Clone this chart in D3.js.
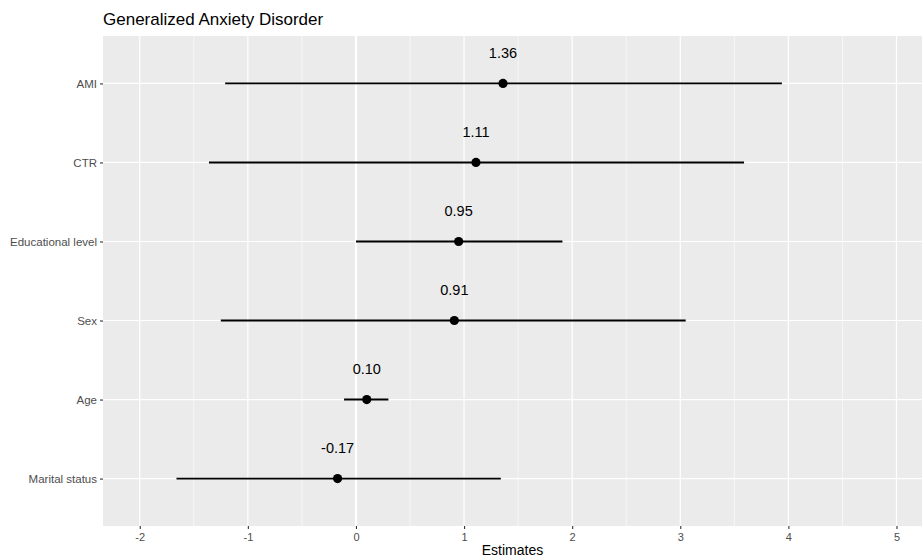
<!DOCTYPE html>
<html>
<head>
<meta charset="utf-8">
<script src="https://cdn.jsdelivr.net/npm/d3@7"></script>
<style>
  body { margin: 0; background: #fff; }
  svg { display: block; font-family: "Liberation Sans", Arial, sans-serif; }
</style>
</head>
<body>
<div id="chart"></div>
<script>
const categories = ["AMI", "CTR", "Educational level", "Sex", "Age", "Marital status"]
const estimates = [1.36, 1.11, 0.95, 0.91, 0.10, -0.17]
const lower = [-1.21, -1.36, 0.00, -1.25, -0.11, -1.66]
const upper = [3.94, 3.59, 1.91, 3.05, 0.30, 1.34]
const xTicks = [-2, -1, 0, 1, 2, 3, 4, 5]
const xMinor = [-1.5, -0.5, 0.5, 1.5, 2.5, 3.5, 4.5]

const width = 922
const height = 560
const margin = {top: 36, right: 0, bottom: 34, left: 103}
const innerWidth = width - margin.left - margin.right
const innerHeight = height - margin.top - margin.bottom

const x = d3.scaleLinear()
  .domain([-2.34, 5.236])
  .range([0, innerWidth])

const y = d3.scalePoint()
  .domain(categories)
  .range([0, innerHeight])
  .padding(0.6)

const svg = d3.select("#chart")
  .append("svg")
  .attr("width", width)
  .attr("height", height)

svg.append("text")
  .attr("x", margin.left)
  .attr("y", 25)
  .attr("font-size", 17)
  .attr("fill", "#000")
  .text("Generalized Anxiety Disorder")

const g = svg.append("g")
  .attr("transform", `translate(${margin.left},${margin.top})`)

g.append("rect")
  .attr("width", innerWidth)
  .attr("height", innerHeight)
  .attr("fill", "#ebebeb")

g.selectAll(".minor")
  .data(xMinor)
  .join("line")
  .attr("x1", d => x(d))
  .attr("x2", d => x(d))
  .attr("y1", 0)
  .attr("y2", innerHeight)
  .attr("stroke", "#fff")
  .attr("stroke-width", 0.6)

g.selectAll(".major")
  .data(xTicks)
  .join("line")
  .attr("x1", d => x(d))
  .attr("x2", d => x(d))
  .attr("y1", 0)
  .attr("y2", innerHeight)
  .attr("stroke", "#fff")
  .attr("stroke-width", 1.2)

g.selectAll(".hgrid")
  .data(categories)
  .join("line")
  .attr("x1", 0)
  .attr("x2", innerWidth)
  .attr("y1", d => y(d))
  .attr("y2", d => y(d))
  .attr("stroke", "#fff")
  .attr("stroke-width", 1.2)

// reference line at zero
g.append("line")
  .attr("x1", x(0))
  .attr("x2", x(0))
  .attr("y1", 0)
  .attr("y2", innerHeight)
  .attr("stroke", "#fff")
  .attr("stroke-width", 2.2)

g.append("g")
  .attr("transform", `translate(0,${innerHeight})`)
  .call(d3.axisBottom(x).tickValues(xTicks).tickSize(3).tickPadding(4).tickFormat(d3.format("d")))
  .call(group => group.select(".domain").remove())
  .call(group => group.selectAll("line").attr("stroke", "#333").attr("stroke-width", 1.1))
  .call(group => group.selectAll("text").attr("fill", "#4d4d4d").attr("font-size", 11)
    .attr("font-family", "Liberation Sans, Arial, sans-serif").text(d => d < 0 ? "-" + Math.abs(d) : d))

g.append("g")
  .call(d3.axisLeft(y).tickSize(3).tickPadding(3))
  .call(group => group.select(".domain").remove())
  .call(group => group.selectAll("line").attr("stroke", "#333").attr("stroke-width", 1.1))
  .call(group => group.selectAll("text").attr("fill", "#4d4d4d").attr("font-size", 11.5)
    .attr("font-family", "Liberation Sans, Arial, sans-serif"))

const rows = categories.map((label, i) => ({label, est: estimates[i], lo: lower[i], hi: upper[i]}))

g.selectAll(".ci")
  .data(rows)
  .join("line")
  .attr("x1", d => x(d.lo))
  .attr("x2", d => x(d.hi))
  .attr("y1", d => y(d.label))
  .attr("y2", d => y(d.label))
  .attr("stroke", "#000")
  .attr("stroke-width", 1.9)

g.selectAll(".pt")
  .data(rows)
  .join("circle")
  .attr("cx", d => x(d.est))
  .attr("cy", d => y(d.label))
  .attr("r", 4.6)
  .attr("fill", "#000")

g.selectAll(".lbl")
  .data(rows)
  .join("text")
  .attr("x", d => x(d.est))
  .attr("y", d => y(d.label) - 25.5)
  .attr("text-anchor", "middle")
  .attr("font-size", 14.5)
  .attr("fill", "#000")
  .text(d => d.est.toFixed(2))

svg.append("text")
  .attr("x", margin.left + innerWidth / 2)
  .attr("y", 555)
  .attr("text-anchor", "middle")
  .attr("font-size", 14)
  .attr("fill", "#000")
  .text("Estimates")
</script>
</body>
</html>
